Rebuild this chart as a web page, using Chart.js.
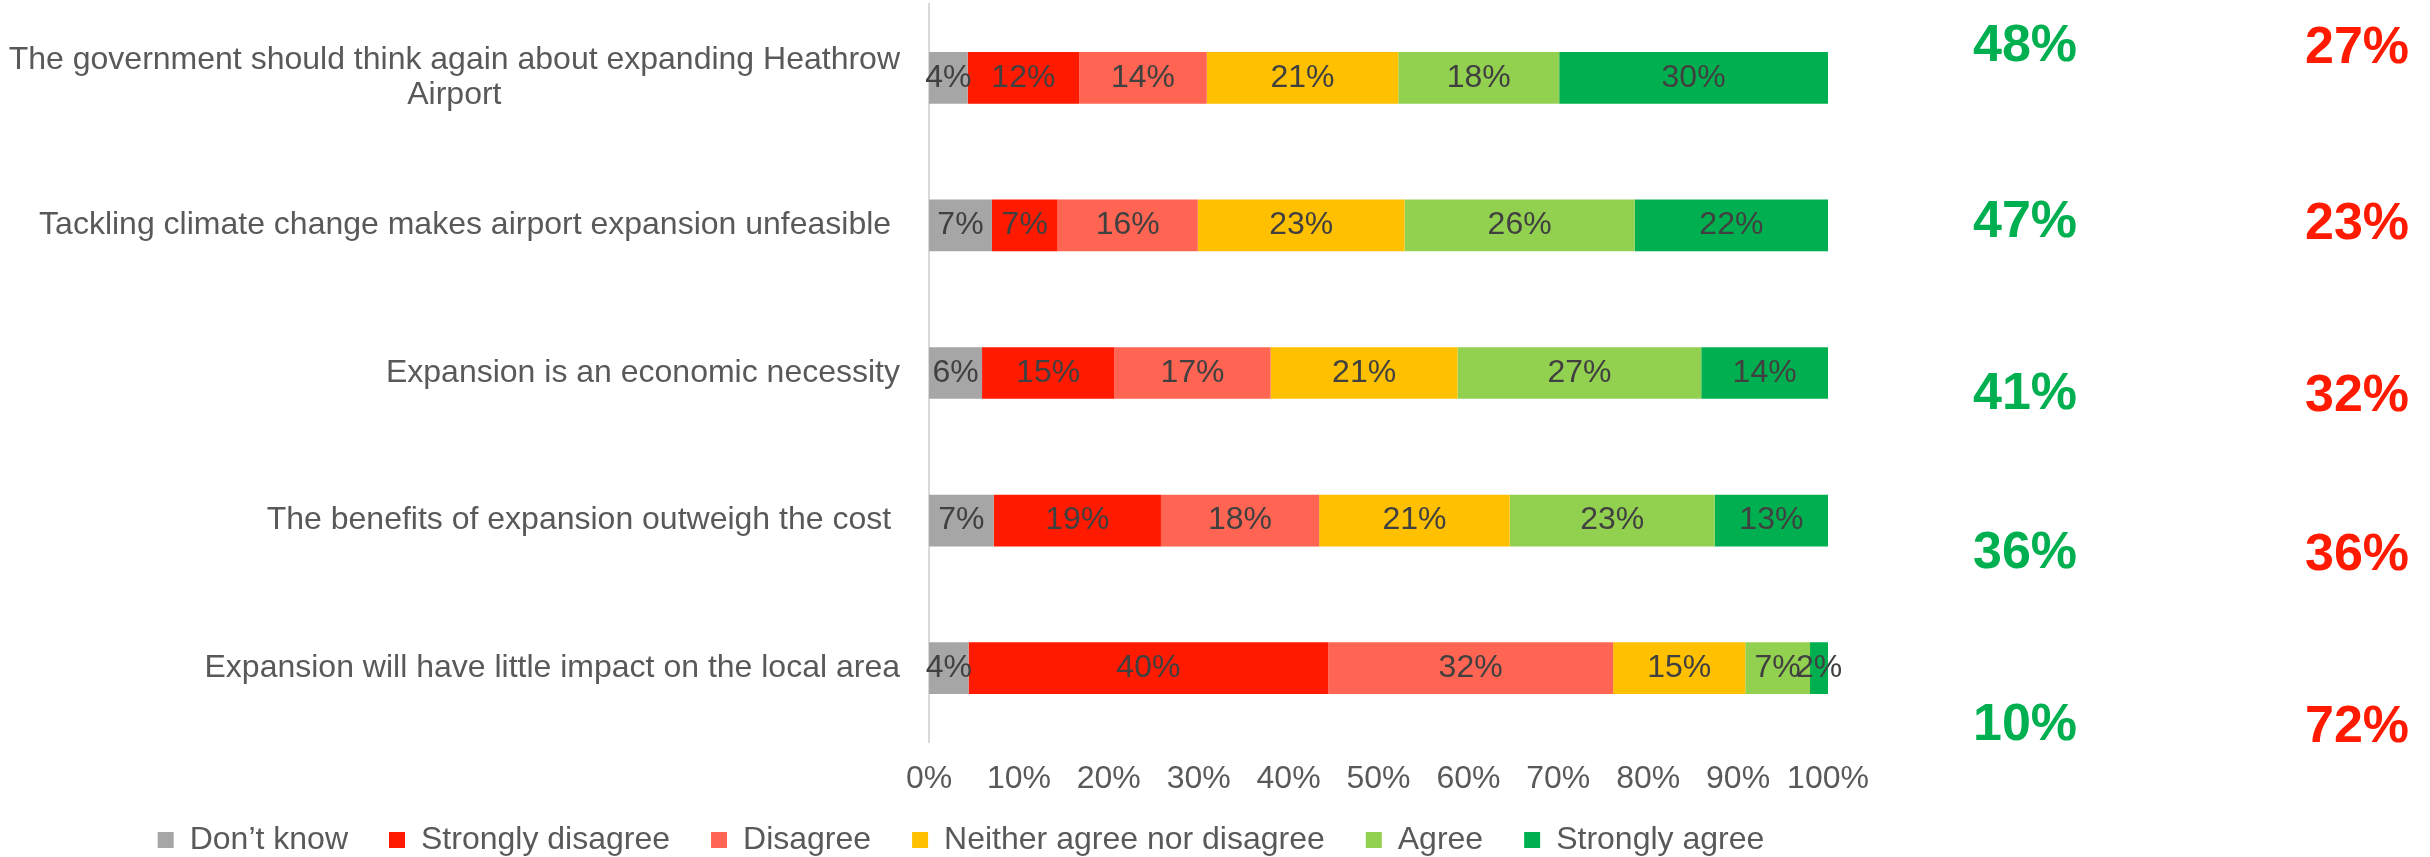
<!DOCTYPE html>
<html>
<head>
<meta charset="utf-8">
<script src="https://cdn.jsdelivr.net/npm/chart.js@4.4.1/dist/chart.umd.min.js"></script>
<style>
  html, body { margin: 0; padding: 0; background: #fff; }
  #chart { display: block; }
</style>
</head>
<body>
<canvas id="chart" width="2430" height="857"></canvas>
<script>
// Statements (y categories)
const categories = [
  ["The government should think again about expanding Heathrow", "Airport"],
  "Tackling climate change makes airport expansion unfeasible ",
  "Expansion is an economic necessity",
  "The benefits of expansion outweigh the cost ",
  "Expansion will have little impact on the local area"
];

const seriesNames = ["Don\u2019t know", "Strongly disagree", "Disagree", "Neither agree nor disagree", "Agree", "Strongly agree"];
const seriesColors = ["#A6A6A6", "#FF1A00", "#FF6552", "#FFC000", "#92D050", "#00B050"];

// Shares per answer (labels are rounded)
const dontKnow = [4.3, 7.0, 5.9, 7.2, 4.4];
const stronglyDisagree = [12.4, 7.3, 14.7, 18.6, 40.0];
const disagree = [14.2, 15.6, 17.4, 17.6, 31.7];
const neither = [21.3, 23.0, 20.8, 21.2, 14.7];
const agree = [17.9, 25.6, 27.1, 22.8, 7.2];
const stronglyAgree = [29.9, 21.5, 14.1, 12.6, 2.0];

// Net totals shown on the right
const netAgree = [48, 47, 41, 36, 10];
const netDisagree = [27, 23, 32, 36, 72];

const xTickStep = 10;

const FONT = "'Liberation Sans', Arial, sans-serif";
const TEXT = "#595959";

// where the net text boxes sit, as share of the plot height
const netRowPos = [0.052, 0.291, 0.524, 0.739, 0.972];

const seriesValues = [dontKnow, stronglyDisagree, disagree, neither, agree, stronglyAgree];

// Labels inside each segment
const segmentLabels = {
  id: "segmentLabels",
  afterDatasetsDraw(chart) {
    const ctx = chart.ctx;
    ctx.save();
    ctx.font = "32px " + FONT;
    ctx.fillStyle = "#404040";
    ctx.textAlign = "center";
    ctx.textBaseline = "middle";
    chart.data.datasets.forEach((ds, i) => {
      chart.getDatasetMeta(i).data.forEach((bar, j) => {
        const cx = (bar.x + bar.base) / 2;
        ctx.fillText(Math.round(ds.data[j]) + "%", cx, bar.y);
      });
    });
    ctx.restore();
  }
};

// Category text on the left: block right aligned, lines centred in the block
const categoryText = {
  id: "categoryText",
  afterDraw(chart) {
    const ctx = chart.ctx;
    const yScale = chart.scales.y;
    const right = chart.chartArea.left - 29;
    const lineH = 35;
    ctx.save();
    ctx.font = "32px " + FONT;
    ctx.fillStyle = TEXT;
    ctx.textAlign = "center";
    ctx.textBaseline = "middle";
    categories.forEach((label, i) => {
      const lines = Array.isArray(label) ? label : [label];
      const w = Math.max(...lines.map(l => ctx.measureText(l).width));
      const cx = right - w / 2;
      const cy = yScale.getPixelForValue(i);
      lines.forEach((l, k) => {
        ctx.fillText(l, cx, cy + (k - (lines.length - 1) / 2) * lineH);
      });
    });
    ctx.restore();
  }
};

// Net agree / net disagree columns
const netColumns = {
  id: "netColumns",
  afterDraw(chart) {
    const ctx = chart.ctx;
    const area = chart.chartArea;
    ctx.save();
    ctx.font = "bold 52px " + FONT;
    ctx.textAlign = "center";
    ctx.textBaseline = "middle";
    netAgree.forEach((v, i) => {
      const y = area.top + area.height * netRowPos[i] + 4;
      ctx.fillStyle = "#00B050";
      ctx.fillText(v + "%", chart.width - 405, y);
      ctx.fillStyle = "#FF1A00";
      ctx.fillText(netDisagree[i] + "%", chart.width - 73, y + 2);
    });
    ctx.restore();
  }
};

new Chart(document.getElementById("chart"), {
  type: "bar",
  data: {
    labels: categories,
    datasets: seriesNames.map((name, i) => ({
      label: name,
      data: seriesValues[i],
      backgroundColor: seriesColors[i],
      borderWidth: 0,
      barPercentage: 0.35,
      categoryPercentage: 1
    }))
  },
  options: {
    indexAxis: "y",
    responsive: false,
    animation: false,
    devicePixelRatio: 1,
    layout: { padding: { top: 4, left: 110, right: 602, bottom: -9 } },
    plugins: {
      legend: {
        position: "bottom",
        labels: {
          boxWidth: 16,
          boxHeight: 16,
          padding: 25,
          color: TEXT,
          font: { family: FONT, size: 32 },
          generateLabels(chart) {
            const items = Chart.defaults.plugins.legend.labels.generateLabels(chart);
            items.forEach(it => { it.text += "\u2002"; });
            return items;
          }
        }
      },
      tooltip: { enabled: false }
    },
    scales: {
      x: {
        stacked: true,
        min: 0,
        max: 100,
        grid: { display: false, drawTicks: false },
        border: { display: false },
        ticks: {
          stepSize: xTickStep,
          padding: 17,
          color: TEXT,
          font: { family: FONT, size: 32, lineHeight: 1.25 },
          callback: v => v + "%"
        },
        afterFit(scale) {
          scale.height = 57;
        }
      },
      y: {
        stacked: true,
        grid: { display: false, drawTicks: false },
        border: { display: true, color: "#D9D9D9", width: 2 },
        ticks: { display: false },
        afterFit(scale) {
          scale.width = 819;
        }
      }
    }
  },
  plugins: [segmentLabels, categoryText, netColumns]
});
</script>
</body>
</html>
